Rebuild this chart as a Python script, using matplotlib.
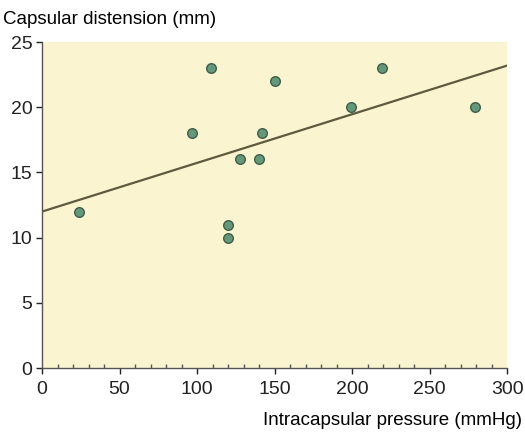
import matplotlib.pyplot as plt
from matplotlib.ticker import MultipleLocator

pressure = [24, 97, 109, 120, 120, 128, 140, 142, 150, 199, 219, 279]
distension = [12, 18, 23, 11, 10, 16, 16, 18, 22, 20, 23, 20]
line_x = [0, 300]
line_y = [12.0, 23.2]

plt.rcParams['font.family'] = ['Liberation Sans', 'DejaVu Sans']

fig = plt.figure(figsize=(5.25, 4.34), dpi=100)
ax = fig.add_axes([0.08, 0.152, 0.886, 0.751])
ax.set_facecolor('#faf5d0')

ax.plot(line_x, line_y, color='#5f5a3e', lw=1.6, zorder=2)
ax.scatter(pressure, distension, s=48, color='#64987a', edgecolor='#3f5e4a',
           linewidth=1.0, zorder=3)

ax.set_xlim(0, 300)
ax.set_ylim(0, 25)
ax.xaxis.set_major_locator(MultipleLocator(50))
ax.xaxis.set_minor_locator(MultipleLocator(10))
ax.yaxis.set_major_locator(MultipleLocator(5))

for s in ['top', 'right']:
    ax.spines[s].set_visible(False)
for s in ['left', 'bottom']:
    ax.spines[s].set_color('#555555')
    ax.spines[s].set_linewidth(1.0)

ax.tick_params(axis='both', labelsize=14, colors='#222222', length=4, width=1)
ax.tick_params(axis='x', which='minor', direction='in', length=3, width=1,
               colors='#555555')
ax.tick_params(axis='x', pad=5)
ax.tick_params(axis='y', pad=3)

fig.text(0.005, 0.955, 'Capsular distension (mm)', fontsize=13.5, ha='left', va='center')
fig.text(0.995, 0.03, 'Intracapsular pressure (mmHg)', fontsize=13.5, ha='right', va='center')

fig.savefig('out.png', dpi=100)
